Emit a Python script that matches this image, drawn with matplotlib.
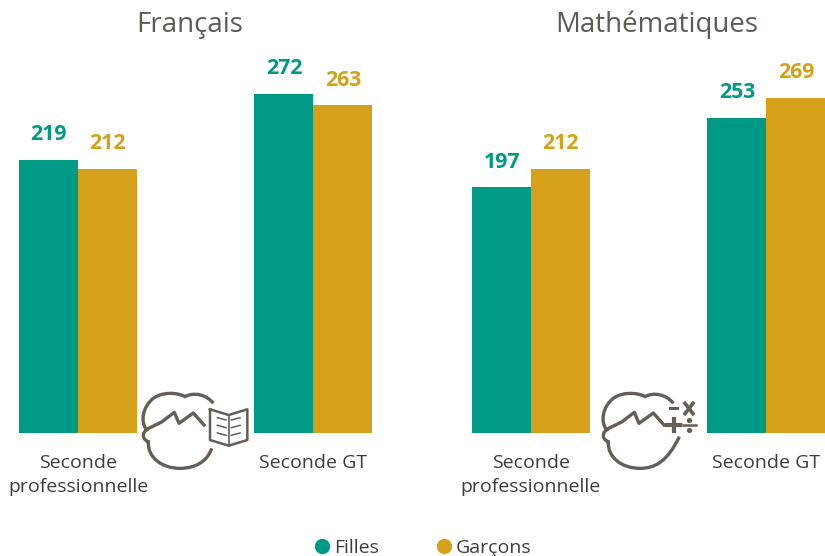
from matplotlib import pyplot as plt
from matplotlib.path import Path
from matplotlib.patches import PathPatch
from matplotlib.lines import Line2D
import numpy as np

plt.rcParams['font.family'] = ['Open Sans', 'DejaVu Sans']

subjects = ['Français', 'Mathématiques']
levels = ['Seconde\nprofessionnelle', 'Seconde GT']
filles = [[219, 272], [197, 253]]
garcons = [[212, 263], [212, 269]]
legend_names = ['Filles', 'Garçons']

TEAL = '#009984'
GOLD = '#D6A11A'
TITLE = '#5f5a54'
LABEL = '#3d3d3d'
ICON = '#655d56'

W, H = 825, 556
BASE = 433
SCALE = 1.2465


def head_path(dx, end):
    # points read in the 3x zoom crops
    verts = [(250, 70), (228, 42), (190, 36), (165, 50),
             (140, 36), (95, 36), (70, 55),
             (38, 80), (30, 125), (50, 150),
             (36, 158), (36, 178), (55, 185),
             (52, 232), (95, 265), (150, 265),
             (195, 265), (232, 245), end]
    codes = [Path.MOVETO] + [Path.CURVE4] * 18
    verts = [(dx + x / 3, 380 + y / 3) for x, y in verts]
    return Path(verts, codes)


def hair_line(dx):
    pts = [(50, 148), (95, 126), (133, 97), (147, 130), (190, 99), (222, 135)]
    return [dx + p[0] / 3 for p in pts], [380 + p[1] / 3 for p in pts]


fig = plt.figure(figsize=(W / 100, H / 100), dpi=100)

lefts = [19, 472]
title_x = [170.5 / 353.5, 184.5 / 353.5]
for i in range(2):
    ax = fig.add_axes([lefts[i] / W, (H - BASE) / H, 353.5 / W, BASE / H])
    x = np.array([59, 294.5])
    b1 = ax.bar(x - 29.5, filles[i], 59, color=TEAL)
    b2 = ax.bar(x + 29.5, garcons[i], 59, color=GOLD)
    ax.bar_label(b1, padding=10.5, color=TEAL, fontsize=15.3, fontweight='bold')
    ax.bar_label(b2, padding=10.5, color=GOLD, fontsize=15.3, fontweight='bold')
    ax.set_xlim(0, 353.5)
    ax.set_ylim(0, BASE / SCALE)
    ax.set_xticks(x)
    ax.set_xticklabels(levels, fontsize=14, color=LABEL, linespacing=1.42)
    ax.tick_params(length=0, pad=15)
    ax.set_yticks([])
    ax.patch.set_visible(False)
    for s in ax.spines.values():
        s.set_visible(False)
    ax.set_title(subjects[i], x=title_x[i], y=0.925, fontsize=19.9, color=TITLE, pad=0)

# icons and legend, in pixels
ov = fig.add_axes([0, 0, 1, 1])
ov.set_xlim(0, W)
ov.set_ylim(H, 0)
ov.axis('off')
ov.patch.set_visible(False)

ov.add_patch(PathPatch(head_path(130, (245, 205)), fc='none', ec=ICON, lw=2.4))
hx, hy = hair_line(130)
ov.plot(hx, hy, color=ICON, lw=2.4, solid_joinstyle='round')

# book
book = [(240, 88), (296, 105), (352, 88), (352, 180), (296, 197), (240, 180), (240, 88)]
ov.plot([130 + p[0] / 3 for p in book], [380 + p[1] / 3 for p in book], color=ICON, lw=1.8)
ov.plot([130 + 296 / 3] * 2, [380 + 105 / 3, 380 + 197 / 3], color=ICON, lw=1.2)
for k in range(3):
    y0 = 113 + k * 23
    ov.plot([130 + 262 / 3, 130 + 288 / 3], [380 + y0 / 3, 380 + (y0 + 7) / 3], color=ICON, lw=1.1)
    ov.plot([130 + 304 / 3, 130 + 330 / 3], [380 + (y0 + 7) / 3, 380 + y0 / 3], color=ICON, lw=1.1)

ov.add_patch(PathPatch(head_path(590, (268, 170)), fc='none', ec=ICON, lw=2.4))
hx, hy = hair_line(590)
ov.plot(hx, hy, color=ICON, lw=2.4, solid_joinstyle='round')

# maths signs
sx = lambda v: 590 + v / 3
sy = lambda v: 380 + v / 3
ov.plot([sx(240), sx(260)], [sy(83), sy(83)], color=ICON, lw=2.2)
ov.plot([sx(232), sx(270)], [sy(135), sy(135)], color=ICON, lw=3)
ov.plot([sx(251), sx(251)], [sy(116), sy(154)], color=ICON, lw=3)
ov.plot([sx(285), sx(309)], [sy(70), sy(101)], color=ICON, lw=2.6)
ov.plot([sx(285), sx(309)], [sy(101), sy(70)], color=ICON, lw=2.6)
ov.plot([sx(278), sx(318)], [sy(135), sy(135)], color=ICON, lw=1.8)
ov.scatter([sx(298), sx(298)], [sy(119), sy(151)], s=14, color=ICON, linewidths=0)

# legend
handles = [Line2D([], [], ls='none', marker='o', ms=11, color=TEAL, mew=0),
           Line2D([], [], ls='none', marker='o', ms=11, color=GOLD, mew=0)]
fig.legend(handles, legend_names, loc='center left', bbox_to_anchor=(302 / W, 1 - 548 / H),
           ncol=2, frameon=False, fontsize=14, labelcolor=LABEL, borderpad=0,
           handletextpad=0.05, columnspacing=2.8, handlelength=1.1)

plt.savefig('out.png', dpi=100)
